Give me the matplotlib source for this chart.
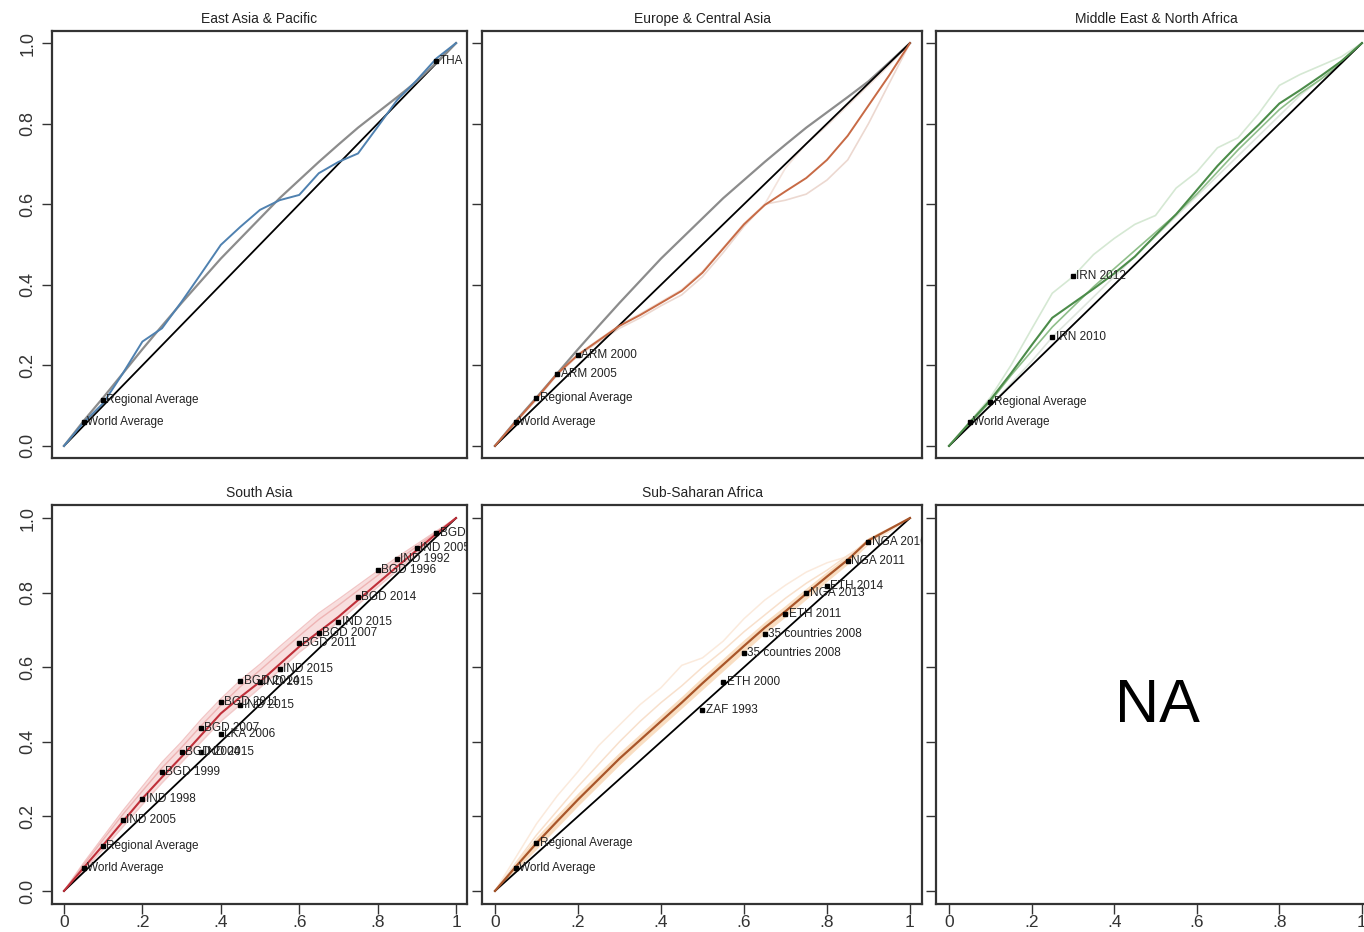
import matplotlib
matplotlib.use('Agg')  # no UI backend
import matplotlib.pyplot as plt

plt.rcParams['font.family'] = ['Liberation Sans', 'DejaVu Sans']

# population share grid (x) shared by every curve
grid = [0, .05, .10, .15, .20, .25, .30, .35, .40, .45, .50,
        .55, .60, .65, .70, .75, .80, .85, .90, .95, 1.0]

world = [0, .062, .120, .180, .240, .298, .355, .410, .465, .515, .565,
         .615, .660, .705, .748, .790, .828, .866, .905, .952, 1.0]

# East Asia & Pacific
eap = [0, .058, .106, .180, .259, .292, .358, .428, .499, .544, .586,
       .610, .623, .677, .705, .726, .792, .859, .908, .962, 1.0]

# Europe & Central Asia
eca = [0, .060, .118, .179, .226, .262, .298, .325, .355, .385, .430,
       .490, .550, .598, .632, .665, .710, .770, .845, .920, 1.0]
eca_c1 = [0, .058, .115, .176, .224, .258, .292, .318, .348, .375, .420,
          .480, .545, .600, .610, .625, .660, .710, .800, .900, 1.0]
eca_c2 = [0, .061, .120, .180, .228, .264, .300, .328, .358, .388, .433,
          .492, .552, .600, .690, .750, .795, .845, .895, .945, 1.0]

# Middle East & North Africa
mena = [0, .058, .114, .180, .250, .318, .354, .390, .428, .470, .523,
        .575, .635, .695, .748, .797, .850, .883, .918, .955, 1.0]
mena_c1 = [0, .060, .120, .200, .290, .379, .420, .475, .515, .550, .572,
           .640, .680, .740, .765, .825, .895, .922, .944, .966, 1.0]
mena_c2 = [0, .055, .110, .175, .235, .295, .345, .395, .440, .485, .530,
           .575, .625, .680, .735, .785, .835, .875, .910, .950, 1.0]
mena_c3 = [0, .050, .100, .155, .210, .270, .320, .370, .420, .470, .520,
           .570, .620, .670, .720, .770, .820, .870, .910, .955, 1.0]

# South Asia
sas = [0, .062, .123, .186, .248, .305, .360, .418, .476, .520, .561,
       .608, .655, .695, .735, .780, .825, .870, .914, .958, 1.0]
sas_hi = [0, .075, .145, .215, .280, .345, .400, .460, .515, .565, .608,
          .655, .700, .745, .782, .820, .858, .895, .930, .965, 1.0]
sas_lo = [0, .055, .112, .172, .232, .290, .345, .400, .455, .500, .545,
          .592, .640, .680, .722, .768, .815, .860, .905, .952, 1.0]
sas_c1 = [0, .070, .138, .205, .268, .330, .385, .443, .498, .548, .592,
          .638, .684, .728, .766, .806, .846, .886, .924, .962, 1.0]

# Sub-Saharan Africa
ssa = [0, .065, .128, .187, .245, .300, .355, .405, .455, .505, .557,
       .607, .657, .706, .750, .797, .843, .888, .940, .970, 1.0]
ssa_hi = [0, .078, .145, .205, .263, .318, .372, .422, .472, .522, .574,
          .624, .674, .722, .766, .812, .857, .900, .948, .976, 1.0]
ssa_lo = [0, .055, .112, .170, .228, .283, .338, .390, .440, .490, .540,
          .590, .640, .690, .735, .782, .830, .876, .930, .964, 1.0]
ssa_c1 = [0, .090, .180, .255, .320, .390, .445, .500, .545, .605, .625,
          .670, .730, .780, .820, .855, .880, .897, .930, .965, 1.0]
ssa_c2 = [0, .075, .150, .215, .280, .340, .400, .455, .505, .550, .600,
          .645, .695, .740, .785, .825, .860, .900, .935, .970, 1.0]

# labelled points: (x, y, text)
eap_pts = [(.05, .060, 'World Average'), (.10, .114, 'Regional Average'),
           (.95, .956, 'THA')]
eca_pts = [(.05, .060, 'World Average'), (.10, .118, 'Regional Average'),
           (.15, .179, 'ARM 2005'), (.20, .226, 'ARM 2000')]
mena_pts = [(.05, .060, 'World Average'), (.10, .108, 'Regional Average'),
            (.25, .271, 'IRN 2010'), (.30, .422, 'IRN 2012')]
sas_pts = [(.05, .061, 'World Average'), (.10, .121, 'Regional Average'),
           (.15, .190, 'IND 2005'), (.20, .246, 'IND 1998'),
           (.25, .318, 'BGD 1999'), (.30, .373, 'BGD 2004'),
           (.35, .373, 'IND 2015'), (.35, .436, 'BGD 2007'),
           (.40, .421, 'LKA 2006'), (.40, .506, 'BGD 2011'),
           (.45, .498, 'IND 2015'), (.45, .563, 'BGD 2014'),
           (.50, .561, 'IND 2015'), (.55, .595, 'IND 2015'),
           (.60, .664, 'BGD 2011'), (.65, .693, 'BGD 2007'),
           (.70, .722, 'IND 2015'), (.75, .789, 'BGD 2014'),
           (.80, .862, 'BGD 1996'), (.85, .890, 'IND 1992'),
           (.90, .921, 'IND 2005'), (.95, .961, 'BGD 2016')]
ssa_pts = [(.05, .061, 'World Average'), (.10, .128, 'Regional Average'),
           (.50, .485, 'ZAF 1993'), (.55, .559, 'ETH 2000'),
           (.60, .639, '35 countries 2008'), (.65, .689, '35 countries 2008'),
           (.70, .744, 'ETH 2011'), (.75, .798, 'NGA 2013'),
           (.80, .818, 'ETH 2014'), (.85, .885, 'NGA 2011'),
           (.90, .937, 'NGA 2016')]

yticks = [0, .2, .4, .6, .8, 1.0]
ylabels = ['0.0', '0.2', '0.4', '0.6', '0.8', '1.0']
xticks = [0, .2, .4, .6, .8, 1.0]
xlabels = ['0', '.2', '.4', '.6', '.8', '1']

W, H = 1364, 932
fig = plt.figure(figsize=(W / 100, H / 100), dpi=100)


def make_axes(left, top, right, bottom, xlim, ylim):
    ax = fig.add_axes([left / W, 1 - bottom / H, (right - left) / W, (bottom - top) / H])
    ax.set_xlim(*xlim)
    ax.set_ylim(*ylim)
    for s in ax.spines.values():
        s.set_color('#333333')
        s.set_linewidth(1.6)
    ax.set_yticks(yticks)
    ax.tick_params(axis='y', direction='out', length=7, width=1, colors='#333333',
                   labelsize=13, pad=4)
    ax.tick_params(axis='x', direction='out', length=7, width=1, colors='#333333',
                   labelsize=12.5, pad=1)
    return ax


def draw_points(ax, pts):
    for x, y, s in pts:
        ax.plot(x, y, 's', color='black', ms=3.5, zorder=6)
        ax.text(x + 0.008, y, s, fontsize=8.5, va='center', ha='left',
                color='#222222', clip_on=True, zorder=7)


top_lim = (-0.03, 1.03)
bot_lim = (-0.035, 1.035)
xl1 = (-0.0306, 1.028)
xl2 = (-0.0313, 1.029)
xl3 = (-0.0315, 1.034)

# ---- top row ----
ax1 = make_axes(52, 31, 467, 458, xl1, top_lim)
ax2 = make_axes(482, 31, 922, 458, xl2, top_lim)
ax3 = make_axes(936, 31, 1376, 458, xl3, top_lim)
# ---- bottom row ----
ax4 = make_axes(52, 505, 467, 904, xl1, bot_lim)
ax5 = make_axes(482, 505, 922, 904, xl2, bot_lim)
ax6 = make_axes(936, 505, 1376, 904, xl3, bot_lim)

titles = ['East Asia & Pacific', 'Europe & Central Asia', 'Middle East & North Africa',
          'South Asia', 'Sub-Saharan Africa', '']
for ax, t in zip([ax1, ax2, ax3, ax4, ax5, ax6], titles):
    if t:
        ax.set_title(t, fontsize=10, pad=6, color='#222222')
    if ax in (ax1, ax4):
        ax.set_yticklabels(ylabels, rotation=90, va='center')
    else:
        ax.set_yticklabels([])
    if ax in (ax4, ax5, ax6):
        ax.set_xticks(xticks)
        ax.set_xticklabels(xlabels)
    else:
        ax.set_xticks([])

# East Asia & Pacific
ax1.plot(grid, world, color='#8c8c8c', lw=1.6, zorder=3)
ax1.plot(grid, eap, color='#4f81b0', lw=1.4, zorder=4)
ax1.plot([0, 1], [0, 1], color='black', lw=1.3, zorder=2)
draw_points(ax1, eap_pts)

# Europe & Central Asia
ax2.plot(grid, world, color='#8c8c8c', lw=1.6, zorder=3)
ax2.plot(grid, eca_c1, color='#ecd8d0', lw=1.2, zorder=2)
ax2.plot(grid, eca_c2, color='#f3e3dc', lw=1.2, zorder=2)
ax2.plot(grid, eca, color='#c76a45', lw=1.4, zorder=4)
ax2.plot([0, 1], [0, 1], color='black', lw=1.3, zorder=3)
draw_points(ax2, eca_pts)

# Middle East & North Africa
ax3.plot(grid, mena_c1, color='#d5e8d3', lw=1.2, zorder=2)
ax3.plot(grid, mena_c3, color='#dfe6de', lw=1.2, zorder=2)
ax3.plot(grid, mena_c2, color='#8fbf8a', lw=1.2, zorder=3)
ax3.plot(grid, mena, color='#4c8c4a', lw=1.5, zorder=4)
ax3.plot([0, 1], [0, 1], color='black', lw=1.3, zorder=3)
draw_points(ax3, mena_pts)

# South Asia
ax4.fill_between(grid, sas_lo, sas_hi, color='#f4c4c4', alpha=0.55, lw=0, zorder=1)
ax4.plot(grid, sas_hi, color='#f2c6c6', lw=1.0, zorder=2)
ax4.plot(grid, sas_c1, color='#eeb4b4', lw=1.0, zorder=2)
ax4.plot(grid, sas_lo, color='#f2caca', lw=1.0, zorder=2)
ax4.plot(grid, sas, color='#c0303a', lw=1.5, zorder=4)
ax4.plot([0, 1], [0, 1], color='black', lw=1.3, zorder=3)
draw_points(ax4, sas_pts)

# Sub-Saharan Africa
ax5.fill_between(grid, ssa_lo, ssa_hi, color='#f6c89a', alpha=0.6, lw=0, zorder=1)
ax5.plot(grid, ssa_c1, color='#fbeadc', lw=1.1, zorder=2)
ax5.plot(grid, ssa_c2, color='#f8e0cc', lw=1.1, zorder=2)
ax5.plot(grid, ssa, color='#a9562a', lw=1.6, zorder=4)
ax5.plot([0, 1], [0, 1], color='black', lw=1.3, zorder=3)
draw_points(ax5, ssa_pts)

# empty panel
ax6.text(1157 / W, 1 - 707 / H, 'NA', transform=fig.transFigure, fontsize=44,
         ha='center', va='center', color='black')

plt.savefig('out.png', dpi=100)
